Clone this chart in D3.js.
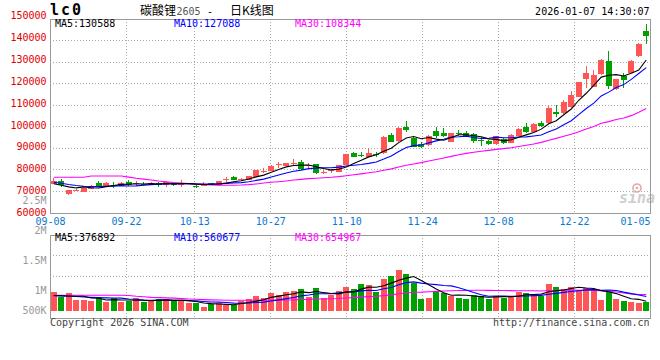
<!DOCTYPE html>
<html><head><meta charset="utf-8">
<script src="https://cdn.jsdelivr.net/npm/d3@7"></script>
<style>
html,body{margin:0;padding:0;background:#fff;}
svg{display:block;}
text{font-family:"DejaVu Sans Mono",monospace;}
</style></head><body>
<svg id="chart" width="660" height="360"></svg>
<script>
// ---------------- DATA ----------------
const dates = ["09-08","09-09","09-10","09-11","09-12","09-15","09-16","09-17","09-18","09-19",
"09-22","09-23","09-24","09-25","09-26","09-29","09-30","10-09","10-10","10-13",
"10-14","10-15","10-16","10-17","10-20","10-21","10-22","10-23","10-24","10-27",
"10-28","10-29","10-30","10-31","11-03","11-04","11-05","11-06","11-07","11-10",
"11-11","11-12","11-13","11-14","11-17","11-18","11-19","11-20","11-21","11-24",
"11-25","11-26","11-27","11-28","12-01","12-02","12-03","12-04","12-05","12-08",
"12-09","12-10","12-11","12-12","12-15","12-16","12-17","12-18","12-19","12-22",
"12-23","12-24","12-25","12-26","12-29","12-30","12-31","01-05","01-06","01-07"];

const open = [73360,74610,68440,70300,69650,70900,73820,72430,72950,72290,
74285,73450,73400,72755,73821,72755,73543,72615,73450,72291,
72430,73500,72615,75300,76465,75450,75074,76604,79300,79248,
82250,81567,82700,83422,81800,82494,78500,79600,78923,82031,
87735,86900,85880,87050,87460,95950,93160,99790,94410,91770,
91310,97800,96730,92840,96800,97010,96410,93400,93300,91770,
93950,92370,95480,99790,97480,101370,101371,106473,106009,108792,
113708,121917,118346,124097,130266,117140,123309,124839,132724,144180];
const high = [76000,75400,70600,70700,71400,72890,74750,74000,74000,74100,
74900,74610,74000,74100,74300,74750,73900,75070,73900,72600,
74285,73821,74700,76326,76700,76140,77100,79900,80500,81800,
83422,83100,84700,84350,82819,82700,79712,80314,82200,87300,
88200,88000,89776,88200,95400,97010,99600,102440,95150,92560,
96000,99800,99050,97000,98270,97700,96800,94880,93600,95700,
94400,96200,99000,101371,101300,102438,109534,109859,112178,116352,
120700,127946,126100,131000,134905,122100,124839,130500,138400,147426];
const low = [73100,71970,68200,70000,69500,70800,71970,72300,71220,72200,
72300,72290,72500,72600,71900,71690,72500,71966,73100,71300,
72300,72755,72500,74285,74900,74749,74900,76400,78181,79100,
80500,81400,81750,79712,80500,77900,77856,78300,78700,81900,
85600,85600,85700,85880,87200,92600,92900,97480,90300,89780,
91000,94400,94880,92500,95480,95000,92300,90800,91500,91500,
91770,92100,95300,96733,97200,99516,101100,104432,105700,108500,
113400,117882,118100,123800,117280,116900,117604,124500,132260,138011];
const close = [74470,72755,70440,70450,71220,72430,72430,73540,72890,73820,
72890,73540,72900,73820,72890,74010,72760,73820,73540,71700,
73220,73100,74610,75400,75070,75540,76930,79710,79390,81570,
82360,82820,82820,80310,81890,78180,78650,79710,82030,87130,
85880,86200,87740,86990,95150,92840,99330,98260,90520,90240,
95620,95480,95620,96730,96730,95620,93300,93300,91770,95480,
92370,95950,98730,97480,101050,100120,108330,105680,111390,114500,
120390,124560,123770,130730,118810,121780,121450,130270,138150,142000];
const volume = [749000,556000,711000,427000,427000,401000,517000,362000,491000,362000,
388000,491000,362000,388000,466000,453000,388000,388000,323000,297000,
155000,272000,323000,233000,233000,388000,479000,582000,491000,711000,
621000,749000,776000,854000,556000,879000,491000,621000,776000,944000,
854000,1048000,1009000,749000,1242000,1358000,1591000,1436000,1073000,466000,
517000,776000,711000,582000,517000,466000,621000,595000,466000,595000,
517000,595000,749000,685000,660000,582000,1048000,944000,854000,944000,
815000,905000,854000,427000,724000,466000,388000,362000,323000,362000];

// moving-average values before enough history is on the chart
const ma5Head  = [73300,72600,71900,71400];
const ma10Head = [74000,73600,73000,72500,72200,72050,72000,72100,72250];
const ma30Head = [76350,76350,76350,76350,76350,76900,76900,76900,76900,76900,
76400,75900,75500,75100,74600,74200,73900,73700,73400,73200,
72950,72800,72700,72650,72650,72750,72950,73250,73650];
const vma5Head  = [600000,590000,580000,570000];
const vma10Head = [590000,585000,575000,560000,545000,530000,520000,510000,505000];
const vma30Head = [610000,610000,610000,610000,610000,610000,610000,610000,610000,610000,
600000,570000,550000,530000,520000,510000,500000,480000,465000,455000,
440000,430000,425000,420000,415000,415000,415000,418000,422000];

const priceTicks = [150000,140000,130000,120000,110000,100000,90000,80000,70000,60000];
const volTicks = [2500000,2000000,1500000,1000000,500000];
const volTickLabels = ["2.5M","2M","1.5M","1M","500K"];
const xTickDates = ["09-08","09-22","10-13","10-27","11-10","11-24","12-08","12-22","01-05"];
const maLegend = [{name:"MA5",value:130588,color:"#000"},{name:"MA10",value:127088,color:"#0000ff"},{name:"MA30",value:108344,color:"#ff00ff"}];
const vmaLegend = [{name:"MA5",value:376892,color:"#000"},{name:"MA10",value:560677,color:"#0000ff"},{name:"MA30",value:654967,color:"#ff00ff"}];
const titleParts = ["碳酸锂","2605","-","日K线图"];
const symbol = "lc0";
const stamp = "2026-01-07 14:30:07";

// ---------------- LAYOUT ----------------
const L = 50, R = 650, mainTop = 19, mainBottom = 213, volTop = 234.5, volBottom = 318;
const RED = "#ff5555", GREEN = "#00a000", GRID = "#aaaaaa", FRAME = "#999999";
const svg = d3.select("#chart");
const n = close.length;

const x = d3.scaleBand().domain(d3.range(n)).range([L, R]).paddingInner(0.25).paddingOuter(0.125);
const bw = x.bandwidth();
const cx = i => x(i) + bw / 2;
const xLab = d3.scaleLinear().domain([0, n - 1]).range([L, R]);
const yP = d3.scaleLinear().domain([60000, 150000]).range([212.5, 18.45]);
const yPLab = d3.scaleLinear().domain([60000, 150000]).range([212.3, 15.7]);
const yV = d3.scaleLinear().domain([0, 3000000]).range([311, 311 - 3000000 / 38800]);
const yVLab = d3.scaleLinear().domain([1000000, 2500000]).range([291.2, 200.7]);

function movingAvg(arr, k, head) {
  return arr.map((_, i) => i < k - 1 ? head[i] : d3.mean(arr.slice(i - k + 1, i + 1)));
}

// ---------------- GRID ----------------
const g = svg.append("g").attr("shape-rendering", "crispEdges");
priceTicks.slice(1, -1).forEach(v => {
  g.append("line").attr("x1", L).attr("x2", R).attr("y1", Math.round(yP(v)) + 0.5).attr("y2", Math.round(yP(v)) + 0.5)
    .attr("stroke", GRID).attr("stroke-dasharray", "1,2");
});
const tickIdx = xTickDates.map(d => dates.indexOf(d));
tickIdx.slice(1, -1).forEach(i => {
  const xx = Math.round(xLab(i)) + 0.5;
  g.append("line").attr("x1", xx).attr("x2", xx).attr("y1", mainTop).attr("y2", mainBottom)
    .attr("stroke", GRID).attr("stroke-dasharray", "1,2");
  g.append("line").attr("x1", xx).attr("x2", xx).attr("y1", volTop).attr("y2", volBottom)
    .attr("stroke", GRID).attr("stroke-dasharray", "1,2");
});
[0.25, 0.5].forEach(f => {
  const yy = Math.round(volTop + (volBottom - volTop) * f) + 0.5;
  g.append("line").attr("x1", L).attr("x2", R).attr("y1", yy).attr("y2", yy)
    .attr("stroke", GRID).attr("stroke-dasharray", "1,2");
});

// watermark
const wm = svg.append("g").attr("opacity", 0.8);
wm.append("circle").attr("cx", 637).attr("cy", 188).attr("r", 4).attr("fill", "none").attr("stroke", "#e89090").attr("stroke-width", 1.6);
wm.append("circle").attr("cx", 637).attr("cy", 188).attr("r", 1.3).attr("fill", "#e89090");
wm.append("text").attr("x", 619).attr("y", 203).attr("font-family", "DejaVu Sans").attr("font-style", "italic")
  .attr("font-weight", "bold").attr("font-size", 15).attr("fill", "#c4c4c4").text("sina");

// ---------------- CANDLES ----------------
const cg = svg.append("g").attr("shape-rendering", "crispEdges");
d3.range(n).forEach(i => {
  const up = close[i] >= open[i];
  const col = up ? RED : GREEN;
  cg.append("line").attr("x1", cx(i)).attr("x2", cx(i)).attr("y1", yP(high[i])).attr("y2", yP(low[i])).attr("stroke", col);
  const top = yP(Math.max(open[i], close[i])), bot = yP(Math.min(open[i], close[i]));
  cg.append("rect").attr("x", x(i)).attr("width", bw).attr("y", top).attr("height", Math.max(1, bot - top)).attr("fill", col);
});

// MA lines (price)
const maLine = d3.line().x((d, i) => cx(i)).y(d => yP(d));
[[movingAvg(close, 30, ma30Head), "#ff00ff"], [movingAvg(close, 10, ma10Head), "#0000ff"], [movingAvg(close, 5, ma5Head), "#000"]]
  .forEach(([arr, col]) => svg.append("path").attr("d", maLine(arr)).attr("fill", "none").attr("stroke", col).attr("stroke-width", 1.1));

// ---------------- VOLUME ----------------
const vg = svg.append("g").attr("shape-rendering", "crispEdges");
d3.range(n).forEach(i => {
  const col = close[i] >= open[i] ? RED : GREEN;
  vg.append("rect").attr("x", x(i)).attr("width", bw).attr("y", yV(volume[i])).attr("height", yV(0) - yV(volume[i])).attr("fill", col);
});
const vLine = d3.line().x((d, i) => cx(i)).y(d => yV(d));
[[movingAvg(volume, 30, vma30Head), "#ff00ff"], [movingAvg(volume, 10, vma10Head), "#0000ff"], [movingAvg(volume, 5, vma5Head), "#000"]]
  .forEach(([arr, col]) => svg.append("path").attr("d", vLine(arr)).attr("fill", "none").attr("stroke", col).attr("stroke-width", 1.1));

// ---------------- FRAMES ----------------
svg.append("rect").attr("x", L + 0.5).attr("y", mainTop + 0.5).attr("width", R - L).attr("height", mainBottom - mainTop)
  .attr("fill", "none").attr("stroke", FRAME).attr("shape-rendering", "crispEdges");
svg.append("rect").attr("x", L + 0.5).attr("y", volTop + 0.5).attr("width", R - L).attr("height", volBottom - volTop)
  .attr("fill", "none").attr("stroke", FRAME).attr("shape-rendering", "crispEdges");

// ---------------- AXES ----------------
const pAx = svg.append("g").attr("transform", `translate(${L},0)`)
  .call(d3.axisLeft(yPLab).tickValues(priceTicks).tickSize(0).tickPadding(3.5).tickFormat(d3.format("d")));
pAx.select(".domain").remove();
pAx.selectAll("text").attr("font-family", "DejaVu Sans Mono").attr("font-size", 10).attr("fill", "#e00000");

const vAx = svg.append("g").attr("transform", `translate(${L},0)`)
  .call(d3.axisLeft(yVLab).tickValues(volTicks).tickSize(0).tickPadding(3.5).tickFormat((d, i) => volTickLabels[i]));
vAx.select(".domain").remove();
vAx.selectAll(".tick").attr("transform", d => `translate(0,${Math.min(yVLab(d), 311)})`);
vAx.selectAll("text").attr("font-family", "DejaVu Sans Mono").attr("font-size", 10).attr("fill", "#999");

const xAx = svg.append("g").attr("transform", `translate(0,225.3)`)
  .call(d3.axisBottom(xLab).tickValues(tickIdx).tickSize(0).tickPadding(0).tickFormat(i => dates[i]));
xAx.select(".domain").remove();
xAx.selectAll("text").attr("font-family", "DejaVu Sans Mono").attr("font-size", 10).attr("fill", "#0a78d2")
  .attr("y", 0).attr("dy", 0)
  .attr("text-anchor", (d, i) => i === tickIdx.length - 1 ? "end" : "middle")
  .attr("x", (d, i) => i === tickIdx.length - 1 ? (R - xLab(d)) : 0);

// ---------------- TEXTS ----------------
svg.append("text").attr("x", L).attr("y", 15).attr("font-size", 15).attr("font-weight", "bold")
  .attr("letter-spacing", 2).attr("fill", "#000").text(symbol);
const tt = svg.append("text").attr("y", 14.5).attr("font-size", 12).attr("fill", "#000");
tt.append("tspan").attr("x", 140).attr("font-family", "Noto Sans CJK SC").text(titleParts[0]);
tt.append("tspan").attr("x", 176.5).attr("font-family", "DejaVu Sans Mono").attr("font-size", 10).attr("fill", "#555").text(titleParts[1]);
tt.append("tspan").attr("x", 207).attr("font-family", "DejaVu Sans Mono").attr("font-size", 10).text(titleParts[2]);
tt.append("tspan").attr("x", 230).attr("font-family", "Noto Sans CJK SC").text(titleParts[3]);
svg.append("text").attr("x", 649.5).attr("y", 15).attr("text-anchor", "end").attr("font-size", 10).attr("fill", "#000").text(stamp);

const legX = [55, 174, 295];
maLegend.forEach((m, i) => svg.append("text").attr("x", legX[i]).attr("y", 27.3).attr("font-size", 10).attr("fill", m.color).text(`${m.name}:${m.value}`));
vmaLegend.forEach((m, i) => svg.append("text").attr("x", legX[i]).attr("y", 240.7).attr("font-size", 10).attr("fill", m.color).text(`${m.name}:${m.value}`));

svg.append("text").attr("x", L).attr("y", 326).attr("font-size", 10).attr("fill", "#444").text("Copyright 2026 SINA.COM");
svg.append("text").attr("x", 649.5).attr("y", 326).attr("text-anchor", "end").attr("font-size", 10).attr("fill", "#444").text("http://finance.sina.com.cn");
</script>
</body></html>
